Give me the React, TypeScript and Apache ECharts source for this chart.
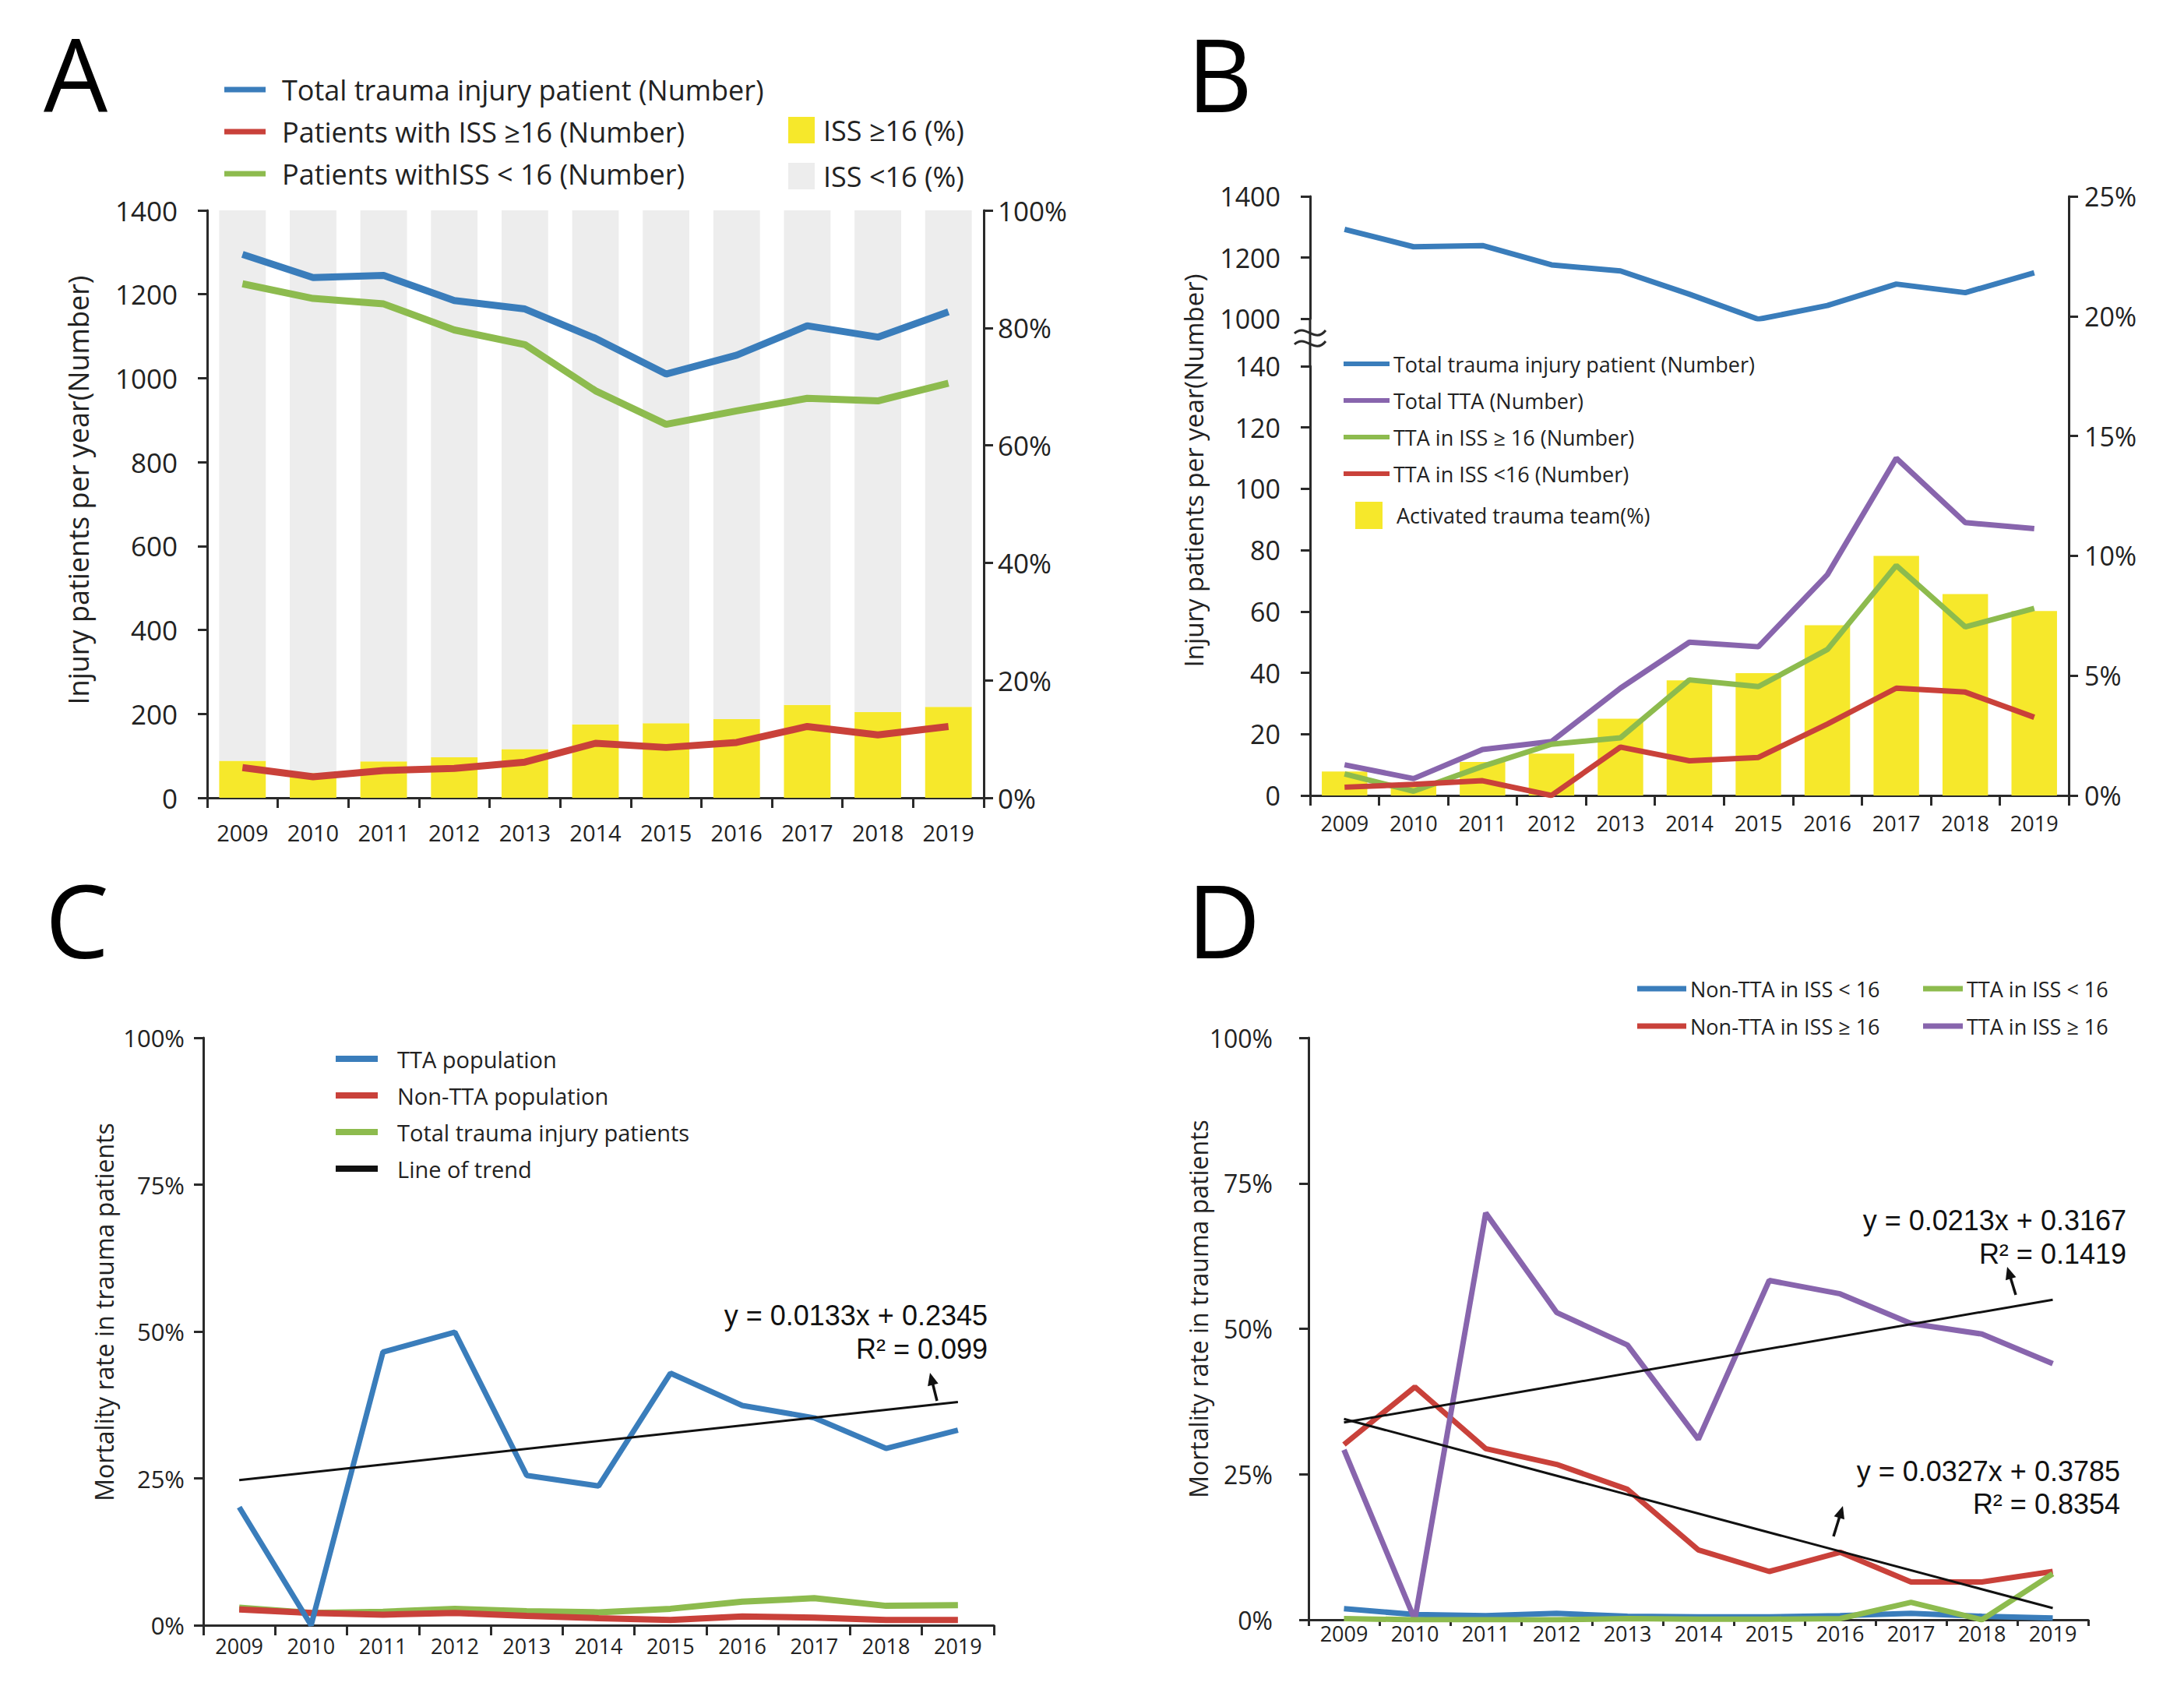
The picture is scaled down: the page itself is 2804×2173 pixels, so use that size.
import React, { useEffect, useRef } from "react";
import * as echarts from "echarts";

const years = ["2009", "2010", "2011", "2012", "2013", "2014", "2015", "2016", "2017", "2018", "2019"];

// Panel A
const aTotal = [1295, 1240, 1245, 1185, 1165, 1095, 1010, 1055, 1125, 1098, 1158];
const aSevere = [72, 50, 65, 70, 85, 130, 120, 132, 170, 150, 170];
const aMild = [1225, 1190, 1177, 1115, 1080, 970, 890, 922, 952, 946, 988];
const aSeverePct = [6.3, 4.2, 6.2, 6.9, 8.3, 12.5, 12.7, 13.4, 15.8, 14.6, 15.5];
const aMildPct = [93.7, 95.8, 93.8, 93.1, 91.7, 87.5, 87.3, 86.6, 84.2, 85.4, 84.5];

// Panel B
const bTotal = [1292, 1235, 1239, 1176, 1156, 1080, 998, 1043, 1113, 1085, 1150];
const bTTA = [10, 5.5, 15, 17.6, 35, 50, 48.5, 72, 110, 89, 87];
const bTTAHigh = [7, 1.4, 9.5, 16.7, 18.8, 37.7, 35.5, 47.6, 75, 55, 61];
const bTTALow = [2.7, 3.6, 4.8, 0, 15.8, 11.3, 12.4, 23.3, 35, 33.7, 25.5];
const bActivated = [1.0, 0.5, 1.4, 1.75, 3.2, 4.8, 5.1, 7.1, 10.0, 8.4, 7.7];

// Panel C
const cTTA = [20.1, 0, 46.5, 49.9, 25.5, 23.7, 42.9, 37.4, 35.3, 30.1, 33.2];
const cNonTTA = [2.7, 2.1, 1.8, 2.1, 1.6, 1.2, 0.9, 1.5, 1.3, 0.9, 0.9];
const cTotal = [3.0, 2.1, 2.3, 2.8, 2.4, 2.2, 2.8, 4.0, 4.6, 3.3, 3.4];
const cTrend = [24.7, null, null, null, null, null, null, null, null, null, 38.0];

// Panel D
const dNonLow = [1.9, 0.9, 0.7, 1.1, 0.6, 0.5, 0.5, 0.7, 1.1, 0.6, 0.3];
const dTTALow = [0.2, 0, 0, 0, 0.2, 0.1, 0.1, 0.2, 3.0, 0, 7.9];
const dNonHigh = [30.1, 40.0, 29.4, 26.7, 22.4, 12.0, 8.3, 11.6, 6.5, 6.5, 8.3];
const dTTAHigh = [29.2, 0, 69.9, 52.8, 47.2, 31.0, 58.3, 56.0, 50.9, 49.1, 44.0];
const dTrendUp = [33.9, null, null, null, null, null, null, null, null, null, 55.0];
const dTrendDown = [34.5, null, null, null, null, null, null, null, null, null, 2.0];

const BLUE = "#3a7dbb";
const RED = "#c9413a";
const GREEN = "#8dbb4e";
const PURPLE = "#8865ad";
const YELLOW = "#f6e82b";
const GREY = "#ededed";
const AX = "#2a2a2a";
const FONT = "'Open Sans', 'Noto Sans', sans-serif";
const NOTE_FONT = "'Liberation Sans', Arial, sans-serif";

function catAxis(gridIndex: number, show: boolean, fontSize: number, margin: number, tickLen = 13) {
  return {
    type: "category",
    gridIndex,
    data: years,
    show,
    boundaryGap: true,
    axisLine: { show: true, lineStyle: { color: AX, width: 3 } },
    axisTick: { show: true, length: tickLen, lineStyle: { color: AX, width: 3 } },
    axisLabel: { color: "#222", fontSize, margin, fontFamily: FONT },
  };
}

function valAxis(gridIndex: number, position: string, min: number, max: number, interval: number, fontSize: number, margin: number, pct: boolean) {
  return {
    type: "value",
    gridIndex,
    position,
    min,
    max,
    interval,
    splitLine: { show: false },
    axisLine: { show: true, lineStyle: { color: AX, width: 3 } },
    axisTick: { show: true, length: 12, lineStyle: { color: AX, width: 3 } },
    axisLabel: {
      color: "#222",
      fontSize,
      margin,
      fontFamily: FONT,
      formatter: (v: number) => (pct ? String(v) + "%" : String(v)),
    },
  };
}

function lineSeries(name: string, data: any[], color: string, xi: number, yi: number, width: number, extra: any = {}) {
  return {
    type: "line",
    name,
    data,
    xAxisIndex: xi,
    yAxisIndex: yi,
    color,
    symbol: "none",
    lineStyle: { color, width },
    ...extra,
  };
}

function arrow(x1: number, y1: number, x2: number, y2: number) {
  const dx = x2 - x1;
  const dy = y2 - y1;
  const len = Math.sqrt(dx * dx + dy * dy);
  const ux = dx / len;
  const uy = dy / len;
  const px = -uy;
  const py = ux;
  const L = 16;
  const W = 7;
  return [
    { type: "line", shape: { x1, y1, x2: x2 - ux * 8, y2: y2 - uy * 8 }, style: { stroke: "#111", lineWidth: 3.5 } },
    {
      type: "polygon",
      shape: {
        points: [
          [x2, y2],
          [x2 - ux * L + px * W, y2 - uy * L + py * W],
          [x2 - ux * L - px * W, y2 - uy * L - py * W],
        ],
      },
      style: { fill: "#111" },
    },
  ];
}

function legend(names: string[], left: number, top: number, opts: any) {
  return {
    data: names,
    left,
    top,
    orient: "vertical",
    selectedMode: false,
    icon: opts.icon || "rect",
    itemWidth: opts.w,
    itemHeight: opts.h,
    itemGap: opts.gap,
    padding: 0,
    textStyle: {
      color: "#222",
      fontSize: opts.fs,
      lineHeight: opts.lh,
      fontFamily: FONT,
      padding: [0, 0, 0, opts.pad || 0],
    },
  };
}

// regression note line, x = right edge, y = vertical centre
function note(text: string, x: number, y: number) {
  return {
    type: "text",
    x,
    y,
    style: { text, fontSize: 36, lineHeight: 38, fontFamily: NOTE_FONT, fill: "#111", textAlign: "right", textVerticalAlign: "middle" },
  };
}

function vname(text: string, x: number, y: number, fontSize: number) {
  return {
    type: "text",
    x,
    y,
    rotation: Math.PI / 2,
    style: { text, fontSize, lineHeight: fontSize, fontFamily: FONT, fill: "#222", textAlign: "center", textVerticalAlign: "middle" },
  };
}

export default function App() {
  const ref = useRef<HTMLDivElement>(null);

  useEffect(() => {
    document.body.style.margin = "0";
    const chart = echarts.init(ref.current!, null, { renderer: "svg" });

    const option: any = {
      animation: false,
      backgroundColor: "#ffffff",
      textStyle: { fontFamily: FONT },
      grid: [
        { left: 266, top: 270, width: 997, height: 754 },
        { left: 1682, top: 252, width: 974, height: 157 },
        { left: 1682, top: 470, width: 974, height: 551 },
        { left: 1682, top: 252, width: 974, height: 769 },
        { left: 261, top: 1332, width: 1015, height: 754 },
        { left: 1680, top: 1332, width: 1001, height: 747 },
      ],
      xAxis: [
        catAxis(0, true, 29, 30),
        catAxis(1, false, 26, 24),
        catAxis(2, true, 27, 22),
        catAxis(3, false, 26, 24),
        catAxis(4, true, 27, 13),
        catAxis(5, true, 27, 4, 8),
      ],
      yAxis: [
        valAxis(0, "left", 0, 1400, 200, 35, 38, false),
        valAxis(0, "right", 0, 100, 20, 35, 18, true),
        valAxis(1, "left", 1000, 1400, 200, 34, 38, false),
        valAxis(2, "left", 0, 140, 20, 34, 38, false),
        valAxis(3, "right", 0, 25, 5, 34, 20, true),
        valAxis(4, "left", 0, 100, 25, 31, 24, true),
        valAxis(5, "left", 0, 100, 25, 32, 46, true),
      ],
      legend: [
        legend(
          ["Total trauma injury patient (Number)", "Patients with ISS ≥16 (Number)", "Patients withISS < 16 (Number)"],
          288, 96, { w: 53, h: 7, gap: 16, fs: 36, lh: 38, pad: 16 }
        ),
        legend(["ISS ≥16 (%)", "ISS <16 (%)"], 1012, 148, { w: 34, h: 34, gap: 21, fs: 36, lh: 38, pad: 6 }),
        legend(
          ["Total trauma injury patient (Number)", "Total TTA (Number)", "TTA in ISS ≥ 16 (Number)", "TTA in ISS <16 (Number)"],
          1725, 452, { w: 59, h: 6, gap: 17, fs: 27, lh: 30 }
        ),
        legend(["Activated trauma team(%)"], 1740, 644, { w: 35, h: 35, gap: 10, fs: 27, lh: 30, pad: 13 }),
        legend(
          ["TTA population", "Non-TTA population", "Total trauma injury patients", "Line of trend"],
          431, 1343, { w: 54, h: 8, gap: 15, fs: 29, lh: 32, pad: 20 }
        ),
        legend(["Non-TTA in ISS < 16", "Non-TTA in ISS ≥ 16"], 2102, 1254, { w: 63, h: 7, gap: 18, fs: 27, lh: 30, pad: 0 }),
        legend(["TTA in ISS < 16", "TTA in ISS ≥ 16"], 2469, 1254, { w: 51, h: 7, gap: 18, fs: 27, lh: 30, pad: 0 }),
      ],
      series: [
        // A
        { type: "bar", name: "ISS ≥16 (%)", data: aSeverePct, xAxisIndex: 0, yAxisIndex: 1, stack: "a", barWidth: "66%", color: YELLOW, itemStyle: { color: YELLOW } },
        { type: "bar", name: "ISS <16 (%)", data: aMildPct, xAxisIndex: 0, yAxisIndex: 1, stack: "a", barWidth: "66%", color: GREY, itemStyle: { color: GREY } },
        lineSeries("Total trauma injury patient (Number)", aTotal, BLUE, 0, 0, 9),
        lineSeries("Patients with ISS ≥16 (Number)", aSevere, RED, 0, 0, 9),
        lineSeries("Patients withISS < 16 (Number)", aMild, GREEN, 0, 0, 9),
        // B
        { type: "bar", name: "Activated trauma team(%)", data: bActivated, xAxisIndex: 3, yAxisIndex: 4, barWidth: "66%", color: YELLOW, itemStyle: { color: YELLOW } },
        lineSeries("Total trauma injury patient (Number)", bTotal, BLUE, 1, 2, 7),
        lineSeries("Total TTA (Number)", bTTA, PURPLE, 2, 3, 7),
        lineSeries("TTA in ISS ≥ 16 (Number)", bTTAHigh, GREEN, 2, 3, 7),
        lineSeries("TTA in ISS <16 (Number)", bTTALow, RED, 2, 3, 7),
        // C
        lineSeries("Total trauma injury patients", cTotal, GREEN, 4, 5, 8),
        lineSeries("Non-TTA population", cNonTTA, RED, 4, 5, 8),
        lineSeries("TTA population", cTTA, BLUE, 4, 5, 7),
        lineSeries("Line of trend", cTrend, "#111111", 4, 5, 3, { connectNulls: true }),
        // D
        lineSeries("Non-TTA in ISS < 16", dNonLow, BLUE, 5, 6, 7),
        lineSeries("Non-TTA in ISS ≥ 16", dNonHigh, RED, 5, 6, 7),
        lineSeries("TTA in ISS ≥ 16", dTTAHigh, PURPLE, 5, 6, 7),
        lineSeries("TTA in ISS < 16", dTTALow, GREEN, 5, 6, 7),
        lineSeries("Trend TTA in ISS ≥ 16", dTrendUp, "#111111", 5, 6, 3, { connectNulls: true }),
        lineSeries("Trend Non-TTA in ISS ≥ 16", dTrendDown, "#111111", 5, 6, 3, { connectNulls: true }),
      ],
      graphic: [
        // panel letters
        { type: "text", left: 56, top: 28, style: { text: "A", fontSize: 130, fontFamily: FONT, fill: "#000" } },
        { type: "text", left: 1524, top: 28, style: { text: "B", fontSize: 130, fontFamily: FONT, fill: "#000" } },
        { type: "text", left: 58, top: 1114, style: { text: "C", fontSize: 130, fontFamily: FONT, fill: "#000" } },
        { type: "text", left: 1524, top: 1114, style: { text: "D", fontSize: 130, fontFamily: FONT, fill: "#000" } },
        // y-axis names
        vname("Injury patients per year(Number)", 100, 629, 36),
        vname("Injury patients per year(Number)", 1532, 604, 33),
        vname("Mortality rate in trauma patients", 133, 1684, 32),
        vname("Mortality rate in trauma patients", 1538, 1680, 32),
        // B axis break
        { type: "line", shape: { x1: 1682, y1: 409, x2: 1682, y2: 470 }, style: { stroke: AX, lineWidth: 3 } },
        { type: "bezierCurve", shape: { x1: 1662, y1: 428, cpx1: 1676, cpy1: 414, cpx2: 1688, cpy2: 442, x2: 1702, y2: 424 }, style: { stroke: AX, lineWidth: 3, fill: "none" } },
        { type: "bezierCurve", shape: { x1: 1662, y1: 442, cpx1: 1676, cpy1: 428, cpx2: 1688, cpy2: 456, x2: 1702, y2: 438 }, style: { stroke: AX, lineWidth: 3, fill: "none" } },
        // C annotation
        note("y = 0.0133x + 0.2345", 1268, 1688),
        note("R² = 0.099", 1268, 1731),
        ...arrow(1203, 1798, 1194, 1762),
        // D annotations
        note("y = 0.0213x + 0.3167", 2730, 1566),
        note("R² = 0.1419", 2730, 1609),
        ...arrow(2588, 1662, 2577, 1626),
        note("y = 0.0327x + 0.3785", 2722, 1888),
        note("R² = 0.8354", 2722, 1930),
        ...arrow(2354, 1972, 2366, 1933),
      ],
    };

    chart.setOption(option);
    return () => chart.dispose();
  }, []);

  return <div ref={ref} style={{ width: 2804, height: 2173 }} />;
}
